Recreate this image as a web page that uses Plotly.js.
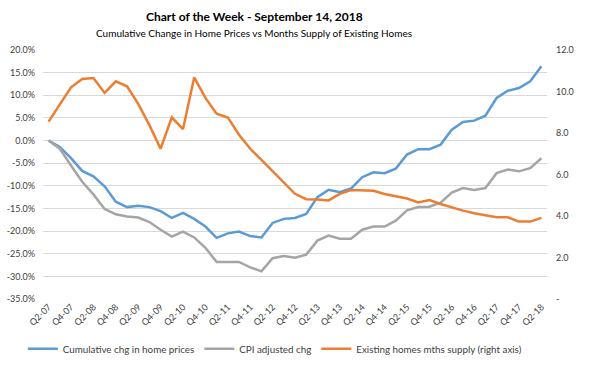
<!DOCTYPE html>
<html>
<head>
<meta charset="utf-8">
<script src="https://cdn.plot.ly/plotly-3.0.1.min.js"></script>
<style>html,body{margin:0;padding:0;background:#fff;}#chart{width:600px;height:380px;}</style>
</head>
<body>
<div id="chart"></div>
<script>
var quarters = ["Q2-07","Q3-07","Q4-07","Q1-08","Q2-08","Q3-08","Q4-08","Q1-09","Q2-09","Q3-09","Q4-09","Q1-10","Q2-10","Q3-10","Q4-10","Q1-11","Q2-11","Q3-11","Q4-11","Q1-12","Q2-12","Q3-12","Q4-12","Q1-13","Q2-13","Q3-13","Q4-13","Q1-14","Q2-14","Q3-14","Q4-14","Q1-15","Q2-15","Q3-15","Q4-15","Q1-16","Q2-16","Q3-16","Q4-16","Q1-17","Q2-17","Q3-17","Q4-17","Q1-18","Q2-18"];
var homePrices = [0,-1.4,-3.9,-6.7,-7.9,-10.1,-13.5,-14.7,-14.4,-14.7,-15.6,-17.1,-16.0,-17.3,-19.0,-21.5,-20.5,-20.1,-21.1,-21.4,-18.2,-17.3,-17.1,-16.2,-12.5,-10.9,-11.4,-10.6,-8.1,-7.0,-7.2,-6.2,-3.1,-1.9,-1.9,-0.9,2.4,4.1,4.4,5.5,9.4,11.0,11.6,13.1,16.4];
var cpiAdjusted = [0,-1.8,-5.5,-9.1,-11.9,-15.1,-16.3,-16.8,-17.0,-18.0,-19.7,-21.2,-20.1,-21.4,-23.7,-26.8,-26.8,-26.8,-28.0,-28.9,-26.0,-25.5,-25.9,-25.2,-22.1,-21.0,-21.7,-21.7,-19.7,-19.0,-19.0,-17.7,-15.4,-14.7,-14.6,-13.7,-11.5,-10.5,-10.9,-10.5,-7.2,-6.4,-6.8,-6.1,-3.9];
var monthsSupply = [8.55,9.36,10.2,10.6,10.65,9.93,10.49,10.25,9.40,8.38,7.24,8.75,8.19,10.68,9.69,8.93,8.75,7.92,7.24,6.71,6.15,5.62,5.07,4.81,4.80,4.75,5.07,5.25,5.25,5.22,5.06,4.95,4.84,4.65,4.77,4.58,4.41,4.26,4.13,4.05,3.94,3.94,3.73,3.73,3.91];
var xTickLabels = ["Q2-07","Q4-07","Q2-08","Q4-08","Q2-09","Q4-09","Q2-10","Q4-10","Q2-11","Q4-11","Q2-12","Q4-12","Q2-13","Q4-13","Q2-14","Q4-14","Q2-15","Q4-15","Q2-16","Q4-16","Q2-17","Q4-17","Q2-18"];
var leftTickVals = [20,15,10,5,0,-5,-10,-15,-20,-25,-30,-35];
var leftTickText = ["20.0%","15.0%","10.0%","5.0%","0.0%","-5.0%","-10.0%","-15.0%","-20.0%","-25.0%","-30.0%","-35.0%"];
var rightTickVals = [12,10,8,6,4,2,0];
var rightTickText = ["12.0","10.0","8.0","6.0","4.0","2.0","-"];
var seriesNames = ["Cumulative chg in home prices","CPI adjusted chg","Existing homes mths supply (right axis)"];

var FONT = "Lato, 'Open Sans', sans-serif";
var traces = [
  {x: quarters, y: homePrices, name: seriesNames[0], type: "scatter", mode: "lines", line: {color: "#5B9BD5", width: 2.5}, yaxis: "y"},
  {x: quarters, y: cpiAdjusted, name: seriesNames[1], type: "scatter", mode: "lines", line: {color: "#A5A5A5", width: 2.5}, yaxis: "y"},
  {x: quarters, y: monthsSupply, name: seriesNames[2], type: "scatter", mode: "lines", line: {color: "#ED7D31", width: 2.5}, yaxis: "y2"}
];
var layout = {
  width: 600, height: 380,
  margin: {l: 43, r: 53, t: 50, b: 81},
  paper_bgcolor: "#fff", plot_bgcolor: "#fff",
  font: {family: FONT, size: 10, color: "#404040"},
  showlegend: true,
  legend: {orientation: "h", x: -0.04, xanchor: "left", y: -0.2, yanchor: "middle", font: {size: 9.8, color: "#404040"}, itemwidth: 30, traceorder: "normal"},
  annotations: [
    {text: "<b>Chart of the Week - September 14, 2018</b>", x: 0.42, y: 1.1, xref: "paper", yref: "paper", showarrow: false, font: {size: 12, color: "#000"}, yanchor: "middle"},
    {text: "Cumulative Change in Home Prices vs Months Supply of Existing Homes", x: 0.42, y: 1, xref: "paper", yref: "paper", showarrow: false, font: {size: 10, color: "#000"}, yanchor: "middle"}
  ],
  xaxis: {
    type: "category", range: [-0.5, 44.5],
    tickmode: "array", tickvals: xTickLabels, ticktext: xTickLabels,
    tickangle: -45, showgrid: false, zeroline: false, showline: false, ticks: "",
    tickfont: {size: 9, color: "#404040"}
  },
  yaxis: {
    range: [-35, 20], tickmode: "array", tickvals: leftTickVals, ticktext: leftTickText,
    showgrid: true, gridcolor: "#D9D9D9", gridwidth: 1, zeroline: false, showline: false, ticks: "",
    tickfont: {size: 9, color: "#404040"}, ticklabelstandoff: 7
  },
  yaxis2: {
    range: [0, 12], overlaying: "y", side: "right", tickmode: "array", tickvals: rightTickVals, ticktext: rightTickText,
    showgrid: false, zeroline: false, showline: false, ticks: "",
    tickfont: {size: 9, color: "#404040"}, ticklabelstandoff: 8
  }
};
var plotH = 380 - 50 - 81;
layout.annotations[0].y = 1 + (50 - 17) / plotH;
layout.annotations[1].y = 1 + (50 - 33) / plotH;
layout.annotations[0].x = (254 - 43) / (600 - 43 - 53);
layout.annotations[1].x = (254 - 43) / (600 - 43 - 53);
Plotly.newPlot("chart", traces, layout, {displayModeBar: false, staticPlot: true});
</script>
</body>
</html>
